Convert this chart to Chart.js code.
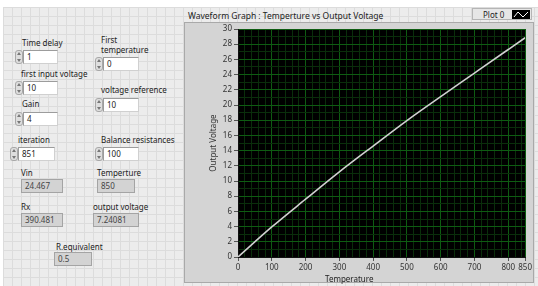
<!DOCTYPE html>
<html>
<head>
<meta charset="utf-8">
<script src="https://cdn.jsdelivr.net/npm/chart.js@4.4.0/dist/chart.umd.min.js"></script>
<style>
  html, body { margin: 0; padding: 0; background: #fff; }
  body { width: 538px; height: 286px; position: relative; overflow: hidden;
         font-family: "Noto Sans", sans-serif; font-size: 8px; color: #222; }
  #grid { position: absolute; left: 3px; top: 7px; width: 535px; height: 279px;
          background-color: #ececec;
          background-image: linear-gradient(#dcdcdc 1px, transparent 1px),
                            linear-gradient(90deg, #dcdcdc 1px, transparent 1px);
          background-size: 9px 9px; }
  .lbl { position: absolute; white-space: nowrap; line-height: 10px; }
  .spin { position: absolute; width: 6px; height: 12px; background: #dedede;
          border: 1px solid #a8a8a8; border-radius: 3px; }
  .spin::before, .spin::after { content: ""; position: absolute; left: 1px;
          border-left: 2px solid transparent; border-right: 2px solid transparent; }
  .spin::before { top: 1px; border-bottom: 3px solid #777; }
  .spin::after { bottom: 1px; border-top: 3px solid #777; }
  .box { position: absolute; height: 12px; line-height: 12px; background: #fff;
         border: 1px solid #9c9c9c; border-right-color: #d0d0d0; border-bottom-color: #d0d0d0;
         padding-left: 3px; box-sizing: content-box; }
  .ind { position: absolute; height: 12px; line-height: 12px; background: #d3d3d3;
         border: 1px solid #a4a4a4; padding-left: 3px; color: #444; }
  #panel { position: absolute; left: 184px; top: 22px; width: 350px; height: 261px;
           background: #d4d4d4; border: 1px solid #a9a9a9; box-sizing: border-box; }
  #legend { position: absolute; left: 472px; top: 8px; width: 60px; height: 12px;
            background: #e6e6e6; border: 1px solid #b5b5b5; box-sizing: border-box; }
  #legend span { position: absolute; left: 10px; top: 0; line-height: 11px; }
  #legend svg { position: absolute; right: 1px; top: 1px; }
  canvas { position: absolute; left: 184px; top: 22px; }
</style>
</head>
<body>
<div id="grid"></div>

<!-- numeric controls -->
<div class="lbl" style="left:22px;top:38px">Time delay</div>
<div class="spin" style="left:15px;top:50px"></div>
<div class="box" style="left:23px;top:50px;width:30px">1</div>

<div class="lbl" style="left:101px;top:35px">First</div>
<div class="lbl" style="left:101px;top:45px">temperature</div>
<div class="spin" style="left:95px;top:57px"></div>
<div class="box" style="left:103px;top:57px;width:31px">0</div>

<div class="lbl" style="left:21px;top:69px">first input voltage</div>
<div class="spin" style="left:15px;top:81px"></div>
<div class="box" style="left:23px;top:81px;width:30px">10</div>

<div class="lbl" style="left:101px;top:85px">voltage reference</div>
<div class="spin" style="left:95px;top:98px"></div>
<div class="box" style="left:103px;top:98px;width:31px">10</div>

<div class="lbl" style="left:22px;top:99px">Gain</div>
<div class="spin" style="left:15px;top:112px"></div>
<div class="box" style="left:23px;top:112px;width:30px">4</div>

<div class="lbl" style="left:18px;top:135px">iteration</div>
<div class="spin" style="left:10px;top:147px"></div>
<div class="box" style="left:18px;top:147px;width:32px">851</div>

<div class="lbl" style="left:101px;top:135px">Balance resistances</div>
<div class="spin" style="left:95px;top:147px"></div>
<div class="box" style="left:103px;top:147px;width:31px">100</div>

<!-- indicators -->
<div class="lbl" style="left:21px;top:168px">Vin</div>
<div class="ind" style="left:21px;top:179px;width:37px">24.467</div>

<div class="lbl" style="left:97px;top:168px">Temperture</div>
<div class="ind" style="left:97px;top:179px;width:33px">850</div>

<div class="lbl" style="left:21px;top:202px">Rx</div>
<div class="ind" style="left:21px;top:213px;width:37px">390.481</div>

<div class="lbl" style="left:93px;top:202px">output voltage</div>
<div class="ind" style="left:93px;top:213px;width:41px">7.24081</div>

<div class="lbl" style="left:56px;top:242px">R.equivalent</div>
<div class="ind" style="left:54px;top:252px;width:33px">0.5</div>

<!-- graph -->
<div class="lbl" style="left:188px;top:11px;font-size:8.5px">Waveform Graph : Temperture vs Output Voltage</div>
<div id="legend"><span>Plot 0</span>
  <svg width="18" height="9" viewBox="0 0 18 9"><rect width="18" height="9" fill="#000"/>
    <polyline points="2,7 6,2 11,7 16,2" fill="none" stroke="#fff" stroke-width="1"/></svg>
</div>
<div id="panel"></div>
<canvas id="graph" width="350" height="261"></canvas>
<div class="lbl" style="left:325px;top:274px">Temperature</div>

<script>
// values
const temperature = [0, 100, 200, 300, 400, 500, 600, 700, 800, 850];
const outputVoltage = [0, 3.95, 7.6, 11.2, 14.6, 17.95, 21.1, 24.2, 27.3, 28.85];

// tick labels (major) and minor grid steps
const xMajorTicks = [0, 100, 200, 300, 400, 500, 600, 700, 800, 850];
const yMajorTicks = [0, 2, 4, 6, 8, 10, 12, 14, 16, 18, 20, 22, 24, 26, 28, 30];
const xMinorStep = 20;
const yMinorStep = 1;

const MAJOR_GRID = '#0e5c12';
const MINOR_GRID = '#0a2e0b';
const TEXT = '#333';
const tickFont = { family: 'Noto Sans', size: 8 };

// major ticks plus the minor subdivisions, for the grid
function withMinor(major, step) {
    const last = major[major.length - 1];
    const vals = new Set(major);
    for (let v = 0; v <= last; v += step) vals.add(v);
    return [...vals].sort((a, b) => a - b);
}
const xTicks = withMinor(xMajorTicks, xMinorStep);
const yTicks = withMinor(yMajorTicks, yMinorStep);

const isMajor = (list, c) => c.tick && list.includes(c.tick.value);

// black plot background
const plotBg = {
    id: 'plotBg',
    beforeDraw(chart) {
        const { ctx, chartArea: a } = chart;
        ctx.save();
        ctx.fillStyle = '#000';
        ctx.fillRect(a.left, a.top, a.right - a.left, a.bottom - a.top);
        ctx.restore();
    }
};

new Chart(document.getElementById('graph'), {
    type: 'line',
    data: {
        datasets: [{
            label: 'Plot 0',
            data: temperature.map((t, i) => ({ x: t, y: outputVoltage[i] })),
            borderColor: '#d0d0d0',
            borderWidth: 1.6,
            pointRadius: 0,
            cubicInterpolationMode: 'monotone'
        }]
    },
    options: {
        responsive: false,
        animation: false,
        layout: { padding: { top: 7, right: 8, left: 0, bottom: 0 } },
        plugins: { legend: { display: false }, tooltip: { enabled: false } },
        scales: {
            x: {
                type: 'linear',
                min: 0,
                max: 850,
                afterBuildTicks: s => { s.ticks = xTicks.map(v => ({ value: v })); },
                afterFit: s => { s.height = 26; },
                grid: {
                    color: c => isMajor(xMajorTicks, c) ? MAJOR_GRID : MINOR_GRID,
                    tickColor: c => isMajor(xMajorTicks, c) ? '#555' : 'rgba(0,0,0,0)',
                    tickLength: 4
                },
                border: { color: '#111' },
                ticks: {
                    autoSkip: false,
                    maxRotation: 0,
                    padding: 2,
                    color: TEXT,
                    font: tickFont,
                    callback: v => xMajorTicks.includes(v) ? String(v) : ''
                }
            },
            y: {
                type: 'linear',
                min: 0,
                max: 30,
                afterBuildTicks: s => { s.ticks = yTicks.map(v => ({ value: v })); },
                afterFit: s => { s.width = 54; },
                grid: {
                    color: c => isMajor(yMajorTicks, c) ? MAJOR_GRID : MINOR_GRID,
                    tickColor: c => isMajor(yMajorTicks, c) ? '#555' : 'rgba(0,0,0,0)',
                    tickLength: 4
                },
                border: { color: '#111' },
                ticks: {
                    autoSkip: false,
                    padding: 2,
                    color: TEXT,
                    font: tickFont,
                    callback: v => yMajorTicks.includes(v) ? String(v) : ''
                },
                title: {
                    display: true,
                    text: 'Output Voltage',
                    color: TEXT,
                    font: { family: 'Noto Sans', size: 8 },
                    padding: { top: 25, bottom: 0 }
                }
            }
        }
    },
    plugins: [plotBg]
});
</script>
</body>
</html>
